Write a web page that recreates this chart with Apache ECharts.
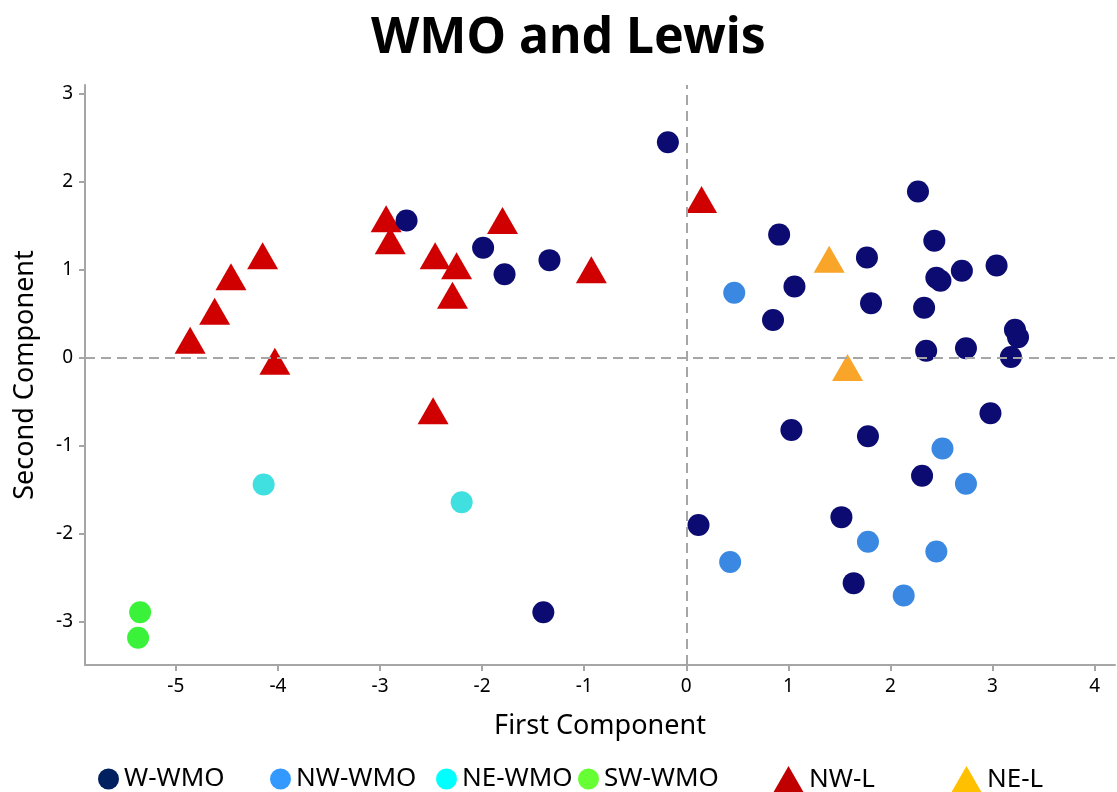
<!DOCTYPE html>
<html>
<head>
<meta charset="utf-8">
<title>WMO and Lewis</title>
<script src="https://cdn.jsdelivr.net/npm/echarts@6/dist/echarts.min.js"></script>
<style>
  html, body { margin: 0; padding: 0; background: #ffffff; }
  #chart { width: 1117px; height: 792px; }
</style>
</head>
<body>
<div id="chart"></div>
<script>
// Principal component scores, [first, second]
const wWmo = [
  [-0.18, 2.45], [2.27, 1.89], [0.91, 1.40], [2.43, 1.33], [1.77, 1.14],
  [3.04, 1.05], [2.70, 0.99], [2.45, 0.91], [2.49, 0.875], [1.06, 0.81],
  [1.81, 0.62], [2.33, 0.57], [0.85, 0.43], [3.22, 0.32], [3.25, 0.235],
  [2.35, 0.08], [2.74, 0.11], [3.18, 0.01], [2.98, -0.63], [1.03, -0.82],
  [1.78, -0.89], [2.31, -1.34], [1.52, -1.81], [0.12, -1.90], [1.64, -2.56],
  [-2.74, 1.56], [-1.99, 1.25], [-1.34, 1.11], [-1.78, 0.95], [-1.40, -2.89]
];
const nwWmo = [
  [0.47, 0.74], [2.51, -1.03], [2.74, -1.43], [1.78, -2.09],
  [2.45, -2.20], [0.43, -2.32], [2.13, -2.70]
];
const neWmo = [[-4.14, -1.44], [-2.20, -1.64]];
const swWmo = [[-5.35, -2.89], [-5.37, -3.18]];
const nwL = [
  [-2.94, 1.58], [-1.80, 1.56], [-2.90, 1.33], [-4.15, 1.16], [-2.46, 1.16],
  [-2.25, 1.045], [-0.93, 1.00], [-4.46, 0.92], [-2.29, 0.71], [-4.62, 0.53],
  [-4.86, 0.20], [-4.03, -0.04], [-2.48, -0.60], [0.15, 1.80]
];
const neL = [[1.40, 1.12], [1.58, -0.11]];

const xTicks = [-5, -4, -3, -2, -1, 0, 1, 2, 3, 4];
const yTicks = [-3, -2, -1, 0, 1, 2, 3];

const FONT = '"Noto Sans", "Open Sans", sans-serif';
const AXIS_GREY = '#a6a6a6';

const groups = [
  { name: 'W-WMO',  data: wWmo,  symbol: 'circle',   size: 22,       color: '#0b0b72', legendColor: '#002060', left: 93,  z: 4 },
  { name: 'NW-WMO', data: nwWmo, symbol: 'circle',   size: 22,       color: '#3b88e2', legendColor: '#3399ff', left: 265, z: 4 },
  { name: 'NE-WMO', data: neWmo, symbol: 'circle',   size: 22,       color: '#40dfe0', legendColor: '#00ffff', left: 431, z: 4 },
  { name: 'SW-WMO', data: swWmo, symbol: 'circle',   size: 22,       color: '#3bf23b', legendColor: '#66ff33', left: 573, z: 4 },
  { name: 'NW-L',   data: nwL,   symbol: 'triangle', size: [31, 27], color: '#d00000', legendColor: '#c00000', left: 768, z: 3 },
  { name: 'NE-L',   data: neL,   symbol: 'triangle', size: [31, 27], color: '#f8a52a', legendColor: '#ffc000', left: 946, z: 3 }
];

const series = [{
  // dashed reference lines through the origin
  type: 'scatter',
  name: 'origin',
  data: [],
  z: 1,
  silent: true,
  markLine: {
    silent: true,
    symbol: 'none',
    label: { show: false },
    lineStyle: { color: AXIS_GREY, width: 2, type: [10, 6] },
    data: [{ xAxis: 0 }, { yAxis: 0 }]
  }
}].concat(groups.map(g => ({
  type: 'scatter',
  name: g.name,
  data: g.data,
  symbol: g.symbol,
  symbolSize: g.size,
  z: g.z,
  itemStyle: { color: g.color, opacity: 1 }
})));

const legends = groups.map(g => {
  const tri = g.symbol === 'triangle';
  return {
    left: g.left,
    top: 761,
    itemWidth: tri ? 31 : 21,
    itemHeight: tri ? 27 : 21,
    selectedMode: false,
    textStyle: { fontFamily: FONT, fontSize: 26, color: '#000' },
    data: [{ name: g.name, icon: g.symbol, itemStyle: { color: g.legendColor } }]
  };
});

const chart = echarts.init(document.getElementById('chart'), null, { renderer: 'canvas' });
chart.setOption({
  animation: false,
  backgroundColor: '#ffffff',
  title: {
    text: 'WMO and Lewis',
    left: 366,
    top: 9,
    textStyle: { fontFamily: FONT, fontSize: 50, fontWeight: 'bold', color: '#000' }
  },
  legend: legends,
  grid: { left: 85, right: 2, top: 85, bottom: 127, containLabel: false },
  xAxis: {
    type: 'value',
    min: -5.89,
    max: 4.2,
    name: 'First Component',
    nameLocation: 'middle',
    nameGap: 48,
    nameTextStyle: { fontFamily: FONT, fontSize: 27, color: '#000' },
    axisLine: { onZero: false, lineStyle: { color: AXIS_GREY, width: 2 } },
    axisTick: { show: true, length: 6, customValues: xTicks, lineStyle: { color: AXIS_GREY, width: 2 } },
    axisLabel: { customValues: xTicks, margin: 12, fontFamily: FONT, fontSize: 19, color: '#000' },
    splitLine: { show: false }
  },
  yAxis: {
    type: 'value',
    min: -3.49,
    max: 3.1,
    name: 'Second Component',
    nameLocation: 'middle',
    nameGap: 46,
    nameTextStyle: { fontFamily: FONT, fontSize: 27, color: '#000' },
    axisLine: { onZero: false, lineStyle: { color: AXIS_GREY, width: 2 } },
    axisTick: { show: true, length: 6, customValues: yTicks, lineStyle: { color: AXIS_GREY, width: 2 } },
    axisLabel: { customValues: yTicks, margin: 12, fontFamily: FONT, fontSize: 19, color: '#000' },
    splitLine: { show: false }
  },
  series: series
});
</script>
</body>
</html>
